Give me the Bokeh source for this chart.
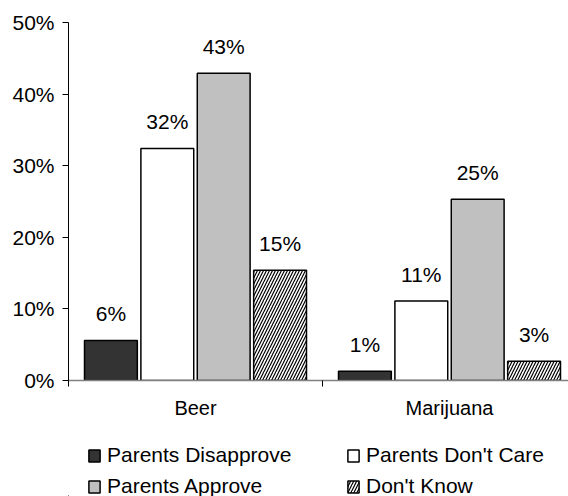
from bokeh.plotting import figure
from bokeh.layouts import column
from bokeh.models import Range1d, FixedTicker, Legend, LegendItem, ColumnDataSource
from bokeh.core.properties import value
from bokeh.embed import file_html
from bokeh.resources import INLINE

categories = ["Beer", "Marijuana"]
series_names = ["Parents Disapprove", "Parents Don't Care", "Parents Approve", "Don't Know"]
disapprove = [0.056, 0.013]
dont_care = [0.324, 0.111]
approve = [0.429, 0.253]
dont_know = [0.154, 0.027]
y_ticks = [0.0, 0.1, 0.2, 0.3, 0.4, 0.5]

series_values = [disapprove, dont_care, approve, dont_know]
fills = ["#333333", "#FFFFFF", "#C0C0C0", "#FFFFFF"]
hatches = [None, None, None, "/"]
offsets = [-0.333, -0.111, 0.111, 0.333]
bar_w = 0.208
FONT = "Liberation Sans"

p = figure(width=568, height=436, output_backend="svg", toolbar_location=None,
           x_range=Range1d(0, 1.9685), y_range=Range1d(0, 0.5),
           min_border_left=68, min_border_right=0, min_border_top=22, min_border_bottom=56)
p.outline_line_color = None
p.xgrid.visible = False
p.ygrid.visible = False
p.background_fill_color = "white"
p.border_fill_color = "white"

# legend strip below the chart (its frame is aligned with the chart's frame);
# its ranges lie far away from the bars so that the proxy bars stay out of view
lg = figure(width=568, height=60, output_backend="svg", toolbar_location=None,
            x_range=Range1d(50, 52), y_range=Range1d(50, 51),
            x_axis_location=None, y_axis_location=None,
            min_border_left=68, min_border_right=0, min_border_top=0, min_border_bottom=0)
lg.outline_line_color = None
lg.xgrid.visible = False
lg.ygrid.visible = False

centers = [i + 0.5 for i in range(len(categories))]
items = []
for vals, name, fill, hatch, off in zip(series_values, series_names, fills, hatches, offsets):
    src = ColumnDataSource(dict(
        x=[c + off for c in centers],
        top=vals,
        label=["%d%%" % round(v * 100) for v in vals],
    ))
    kw = {}
    if hatch:
        kw = dict(hatch_pattern=hatch, hatch_color="black", hatch_scale=6, hatch_weight=1.2)
    p.vbar(x="x", top="top", width=bar_w, bottom=0, source=src,
           fill_color=fill, line_color="black", line_width=1.5, **kw)
    p.text(x="x", y="top", text="label", source=src, text_align="center",
           text_baseline="alphabetic", y_offset=-27, text_font=value(FONT),
           text_font_size="21px", text_color="black")
    proxy = lg.vbar(x="x", top="top", width=bar_w, bottom=0, source=src,
                    fill_color=fill, line_color="black", line_width=1.5, **kw)
    items.append(LegendItem(label=name, renderers=[proxy]))

# y axis
p.yaxis.ticker = FixedTicker(ticks=y_ticks)
p.yaxis.major_label_overrides = {t: "%d%%" % round(t * 100) for t in y_ticks}
p.yaxis.major_label_text_font = FONT
p.yaxis.major_label_text_font_size = "21px"
p.yaxis.major_label_text_color = "black"
p.yaxis.axis_line_color = "black"
p.yaxis.major_tick_line_color = "black"
p.yaxis.major_tick_out = 6
p.yaxis.major_tick_in = 0
p.yaxis.minor_tick_line_color = None
p.yaxis.major_label_standoff = 8

# x axis
p.xaxis.ticker = FixedTicker(ticks=centers, minor_ticks=[0.0, 1.0, 2.0])
p.xaxis.major_label_overrides = {c: n for c, n in zip(centers, categories)}
p.xaxis.major_label_text_font = FONT
p.xaxis.major_label_text_font_size = "20px"
p.xaxis.major_label_text_color = "black"
p.xaxis.axis_line_color = "#808080"
p.xaxis.axis_line_width = 1.5
p.xaxis.major_tick_line_color = None
p.xaxis.major_tick_out = 0
p.xaxis.major_tick_in = 0
p.xaxis.minor_tick_line_color = "black"
p.xaxis.minor_tick_out = 6
p.xaxis.minor_tick_in = 0
p.xaxis.major_label_standoff = 10

legend = Legend(items=items, orientation="horizontal", nrows=2,
                location=(19, -2), margin=0, padding=0,
                glyph_width=14, glyph_height=15, label_standoff=6, label_width=232,
                label_height=20, spacing=7,
                label_text_font=FONT, label_text_font_size="21px", label_text_color="black",
                border_line_color=None, background_fill_alpha=0)
lg.add_layout(legend)

layout = column(p, lg, spacing=0)
open("out.html", "w").write(file_html(layout, INLINE))
